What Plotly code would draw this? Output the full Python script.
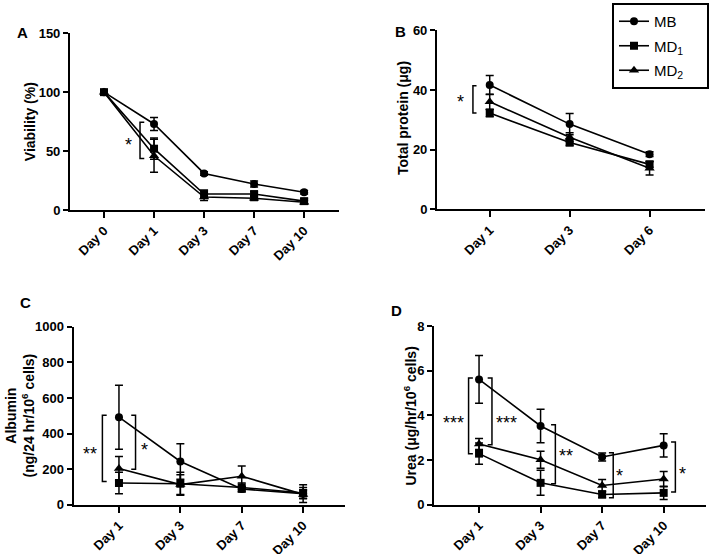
"""Four-panel hepatocyte culture figure: viability, protein, albumin, urea."""

import plotly.graph_objects as go
from plotly.subplots import make_subplots

FONT = "Arial, Liberation Sans, sans-serif"

# Panel A: viability
a_days = ["Day 0", "Day 1", "Day 3", "Day 7", "Day 10"]
a_mb = [100, 73, 31, 22, 15]
a_mb_err = [0, 5.5, 1.5, 2.5, 1.5]
a_md1 = [100, 52, 13.5, 13.5, 7.5]
a_md1_err = [0, 9, 3.5, 2, 2]
a_md2 = [100, 46, 11, 10, 6.5]
a_md2_err = [0, 14, 3, 2, 1.5]

# Panel B: total protein
b_days = ["Day 1", "Day 3", "Day 6"]
b_mb = [41.7, 28.6, 18.5]
b_mb_err = [3.2, 3.6, 0.8]
b_md1 = [32.3, 22.4, 15.1]
b_md1_err = [1.2, 1.0, 1.0]
b_md2 = [36.1, 24.2, 13.8]
b_md2_err = [2.5, 1.5, 2.3]

# Panel C: albumin
c_days = ["Day 1", "Day 3", "Day 7", "Day 10"]
c_mb = [492, 243, 88, 62]
c_mb_err = [180, 100, 15, 50]
c_md1 = [122, 118, 97, 66]
c_md1_err = [60, 65, 25, 30]
c_md2 = [203, 113, 160, 58]
c_md2_err = [68, 55, 58, 25]

# Panel D: urea
d_days = ["Day 1", "Day 3", "Day 7", "Day 10"]
d_mb = [5.62, 3.53, 2.14, 2.66]
d_mb_err = [1.07, 0.75, 0.18, 0.52]
d_md1 = [2.29, 0.98, 0.46, 0.53]
d_md1_err = [0.48, 0.56, 0.15, 0.30]
d_md2 = [2.72, 2.02, 0.86, 1.15]
d_md2_err = [0.25, 0.38, 0.27, 0.34]

# significance brackets: (x position, y low, y high, side, label, label x, label y)
a_sig = [(0.72, 43.6, 74.5, 1, "*", 0.48, 58)]
b_sig = [(-0.21, 32.3, 41.5, 1, "*", -0.36, 37)]
c_sig = [(-0.27, 131, 503, 1, "**", -0.48, 300),
         (0.27, 199, 503, -1, "*", 0.42, 325)]
d_sig = [(-0.17, 2.29, 5.68, 1, "***", -0.42, 3.8),
         (0.21, 2.69, 5.68, -1, "***", 0.44, 3.8),
         (1.24, 0.94, 3.59, -1, "**", 1.41, 2.3),
         (2.18, 0.31, 2.33, -1, "*", 2.29, 1.4),
         (3.19, 0.57, 2.81, -1, "*", 3.31, 1.5)]

# trailing spaces only pad the legend box out to the reference width
names = ["MB" + "&nbsp;" * 6, "MD<sub>1</sub>" + "&nbsp;" * 4, "MD<sub>2</sub>" + "&nbsp;" * 4]
symbols = ["circle", "square", "triangle-up"]

fig = make_subplots(rows=2, cols=2)

panels = [
    (1, 1, a_days, [a_mb, a_md1, a_md2], [a_mb_err, a_md1_err, a_md2_err], a_sig),
    (1, 2, b_days, [b_mb, b_md1, b_md2], [b_mb_err, b_md1_err, b_md2_err], b_sig),
    (2, 1, c_days, [c_mb, c_md1, c_md2], [c_mb_err, c_md1_err, c_md2_err], c_sig),
    (2, 2, d_days, [d_mb, d_md1, d_md2], [d_mb_err, d_md1_err, d_md2_err], d_sig),
]

for p, (row, col, days, series, errs, sig) in enumerate(panels):
    xs = list(range(len(days)))
    for i in range(3):
        fig.add_trace(
            go.Scatter(
                x=xs,
                y=series[i],
                mode="lines+markers",
                name=names[i],
                legendgroup=str(i),
                showlegend=(p == 0),
                line=dict(color="black", width=1.6),
                marker=dict(symbol=symbols[i], size=8 if i != 2 else 9, color="black"),
                error_y=dict(type="data", array=errs[i], color="black",
                             thickness=1.5, width=4),
                cliponaxis=False,
            ),
            row=row, col=col,
        )
    xref = fig.get_subplot(row, col).xaxis.plotly_name.replace("axis", "")
    yref = fig.get_subplot(row, col).yaxis.plotly_name.replace("axis", "")
    tick = 0.07 if p != 1 else 0.045
    if p == 0:
        tick = 0.085
    for (bx, y0, y1, side, label, tx, ty) in sig:
        fig.add_shape(type="path",
                      path=f"M {bx + side * tick} {y0} L {bx} {y0} L {bx} {y1} L {bx + side * tick} {y1}",
                      xref=xref, yref=yref, line=dict(color="black", width=1.5))
        fig.add_annotation(x=tx, y=ty, xref=xref, yref=yref, text=label,
                           showarrow=False, font=dict(size=18, color="black"),
                           xanchor="center", yanchor="middle", yshift=-3)

axis_common = dict(showline=True, linecolor="black", linewidth=2, ticks="outside",
                   tickcolor="black", tickwidth=2, showgrid=False, zeroline=False,
                   automargin=False,
                   tickfont=dict(family=FONT, size=13, color="black", weight="bold"))

fig.update_xaxes(**axis_common, tickangle=-45, ticklen=6)
fig.update_yaxes(**axis_common, ticklen=5)

fig.update_layout(
    xaxis=dict(domain=[0.098, 0.475], range=[-0.68, 4.7],
               tickvals=list(range(len(a_days))), ticktext=a_days),
    yaxis=dict(domain=[0.621, 0.940], range=[0, 150], tickvals=[0, 50, 100, 150]),
    xaxis2=dict(domain=[0.612, 0.987], range=[-0.66, 2.69],
                tickvals=list(range(len(b_days))), ticktext=b_days),
    yaxis2=dict(domain=[0.622, 0.945], range=[0, 60], tickvals=[0, 20, 40, 60]),
    xaxis3=dict(domain=[0.103, 0.483], range=[-0.74, 3.68],
                tickvals=list(range(len(c_days))), ticktext=c_days),
    yaxis3=dict(domain=[0.089, 0.410], range=[0, 1000], dtick=200),
    xaxis4=dict(domain=[0.608, 0.989], range=[-0.73, 3.69],
                tickvals=list(range(len(d_days))), ticktext=d_days),
    yaxis4=dict(domain=[0.089, 0.411], range=[0, 8], dtick=2),
)

# panel letters and y axis titles
W, H = 714, 554
labels = [("A", 15, 22), ("B", 400, 21), ("C", 18, 302), ("D", 396, 310)]
for text, px, py in labels:
    fig.add_annotation(x=px / W, y=1 - py / H, xref="paper", yref="paper",
                       text=f"<b>{text}</b>", showarrow=False,
                       font=dict(family=FONT, size=15, color="black"))

titles = [
    ("Viability (%)", 29.5, 121.7),
    ("Total protein (μg)", 403.7, 118.3),
    ("Albumin<br>(ng/24 hr/10<sup>6</sup> cells)", 19.5, 416),
    ("Urea (μg/hr/10<sup>6</sup> cells)", 410.5, 416),
]
for text, px, py in titles:
    fig.add_annotation(x=px / W, y=1 - py / H, xref="paper", yref="paper",
                       text=f"<b>{text}</b>", showarrow=False, textangle=-90,
                       xanchor="center", yanchor="middle",
                       font=dict(family=FONT, size=14, color="black"))

fig.update_layout(
    width=W, height=H,
    margin=dict(l=0, r=0, t=0, b=0),
    paper_bgcolor="white",
    plot_bgcolor="white",
    font=dict(family=FONT, color="black"),
    legend=dict(x=612 / W, y=1 - 3 / H, xanchor="left", yanchor="top",
                bordercolor="black", borderwidth=2, bgcolor="white",
                font=dict(family=FONT, size=15, color="black"),
                itemwidth=30, tracegroupgap=2),
)

# drop the default page margin so the figure sits at the window's corner
fig.write_html("out.html", config={"displayModeBar": False},
               post_script="document.body.style.margin='0';")
